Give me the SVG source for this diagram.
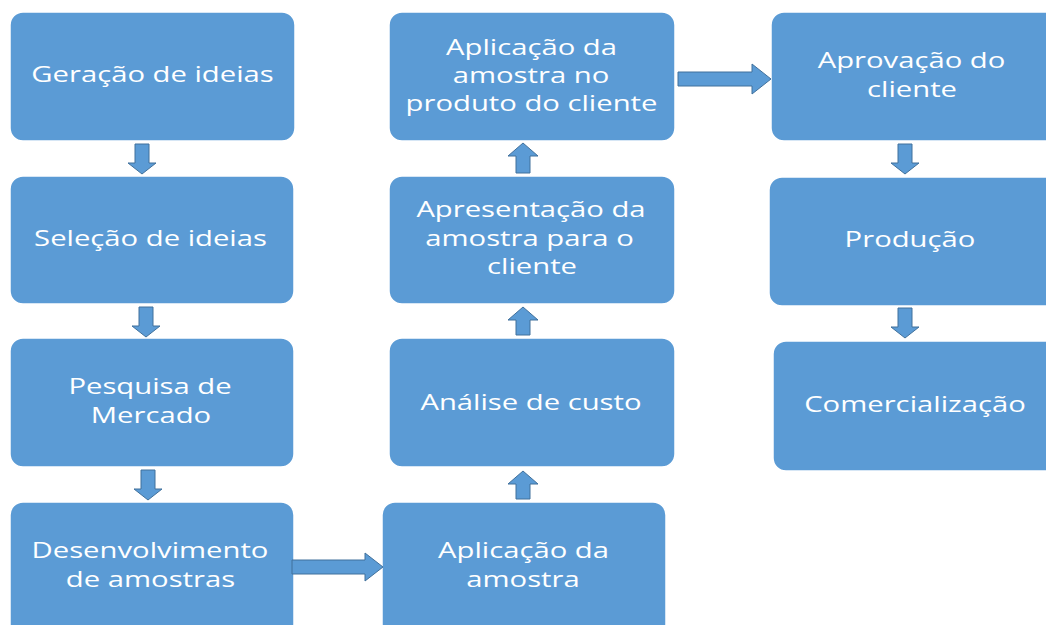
<svg xmlns="http://www.w3.org/2000/svg" width="1046" height="625" viewBox="0 0 1046 625">
<style>
.box{fill:#5B9BD5;stroke:#FFFFFF;stroke-width:1.5}
.t{font-family:"Open Sans","Noto Sans",sans-serif;font-size:22.5px;fill:#FFFFFF;text-anchor:middle}
.arr{fill:#5B9BD5;stroke:#41719C;stroke-width:1}
</style>
<rect width="1046" height="625" fill="#FFFFFF"/>
<g id="n1"><rect class="box" x="10" y="12" width="285" height="129" rx="13"/><text class="t" transform="translate(152.5,82) scale(1.3,1)">Geração de ideias</text></g>
<g id="n2"><rect class="box" x="10" y="176" width="284" height="128" rx="13"/><text class="t" transform="translate(150.5,246) scale(1.3,1)">Seleção de ideias</text></g>
<g id="n3"><rect class="box" x="10" y="338" width="284" height="129" rx="13"/><text class="t" transform="translate(150,394) scale(1.3,1)">Pesquisa de</text><text class="t" transform="translate(151,423) scale(1.3,1)">Mercado</text></g>
<g id="n4"><rect class="box" x="10" y="502" width="284" height="135" rx="13"/><text class="t" transform="translate(150,558) scale(1.3,1)">Desenvolvimento</text><text class="t" transform="translate(150.5,587) scale(1.3,1)">de amostras</text></g>
<g id="n5"><rect class="box" x="382" y="502" width="284" height="135" rx="13"/><text class="t" transform="translate(523.5,558) scale(1.3,1)">Aplicação da</text><text class="t" transform="translate(523,587) scale(1.3,1)">amostra</text></g>
<g id="n6"><rect class="box" x="389" y="338" width="286" height="129" rx="13"/><text class="t" transform="translate(531,410) scale(1.3,1)">Análise de custo</text></g>
<g id="n7"><rect class="box" x="389" y="176" width="286" height="128" rx="13"/><text class="t" transform="translate(531,217) scale(1.3,1)">Apresentação da</text><text class="t" transform="translate(529.5,246) scale(1.3,1)">amostra para o</text><text class="t" transform="translate(532,274) scale(1.3,1)">cliente</text></g>
<g id="n8"><rect class="box" x="389" y="12" width="286" height="129" rx="13"/><text class="t" transform="translate(531.5,55) scale(1.3,1)">Aplicação da</text><text class="t" transform="translate(531,83) scale(1.3,1)">amostra no</text><text class="t" transform="translate(531.5,111) scale(1.3,1)">produto do cliente</text></g>
<g id="n9"><rect class="box" x="771" y="12" width="290" height="129" rx="13"/><text class="t" transform="translate(911.5,68) scale(1.3,1)">Aprovação do</text><text class="t" transform="translate(912,97) scale(1.3,1)">cliente</text></g>
<g id="n10"><rect class="box" x="769" y="177" width="292" height="129" rx="13"/><text class="t" transform="translate(910,247) scale(1.3,1)">Produção</text></g>
<g id="n11"><rect class="box" x="773" y="341" width="288" height="130" rx="13"/><text class="t" transform="translate(915,412) scale(1.3,1)">Comercialização</text></g>
<g id="connectors">
<path class="arr" d="M135,144 H149 V163 H156 L142,174 L128,163 H135 Z"/>
<path class="arr" d="M139,307 H153 V326 H160 L146,337 L132,326 H139 Z"/>
<path class="arr" d="M141,470 H155 V489 H162 L148,500 L134,489 H141 Z"/>
<path class="arr" d="M292,560 H365 V553 L383,567 L365,581 V574 H292 Z"/>
<path class="arr" d="M516,499 V484 H508 L523,471 L538,484 H530 V499 Z"/>
<path class="arr" d="M516,335 V320 H508 L523,307 L538,320 H530 V335 Z"/>
<path class="arr" d="M516,173 V156 H508 L523,143 L538,156 H530 V173 Z"/>
<path class="arr" d="M678,72 H752 V64 L771,79 L752,94 V86 H678 Z"/>
<path class="arr" d="M898,144 H912 V163 H919 L905,174 L891,163 H898 Z"/>
<path class="arr" d="M898,308 H912 V327 H919 L905,338 L891,327 H898 Z"/>
</g>
</svg>
